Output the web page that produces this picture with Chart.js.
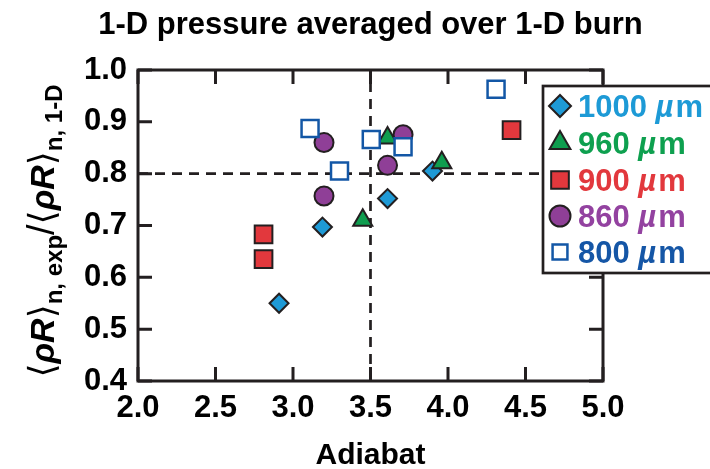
<!DOCTYPE html>
<html>
<head>
<meta charset="utf-8">
<script src="https://cdn.jsdelivr.net/npm/chart.js@4/dist/chart.umd.min.js"></script>
<style>
  html, body { margin: 0; padding: 0; background: #fff; }
  #wrap { width: 710px; height: 469px; position: relative; }
</style>
</head>
<body>
<div id="wrap"><canvas id="c"></canvas></div>
<script>
// Shell thickness series (µm) and measured areal-density ratio vs adiabat
const seriesNames = ['1000', '960', '900', '860', '800'];

const adiabat1000 = [2.91, 3.19, 3.61, 3.90];
const ratio1000   = [0.550, 0.697, 0.752, 0.805];

const adiabat960 = [3.45, 3.61, 3.96];
const ratio960   = [0.710, 0.869, 0.821];

const adiabat900 = [2.81, 2.81, 4.41];
const ratio900   = [0.683, 0.635, 0.884];

const adiabat860 = [3.20, 3.20, 3.61, 3.71];
const ratio860   = [0.860, 0.757, 0.816, 0.875];

const adiabat800 = [3.11, 3.30, 3.505, 3.71, 4.31];
const ratio800   = [0.887, 0.805, 0.866, 0.852, 0.963];

// Axis ticks and reference lines
const xTicks = [2.0, 2.5, 3.0, 3.5, 4.0, 4.5, 5.0];
const yTicks = [0.4, 0.5, 0.6, 0.7, 0.8, 0.9, 1.0];
const adiabatRef = 3.5;
const ratioRef = 0.8;

const FONT = '"Liberation Sans", Arial, Helvetica, sans-serif';
const INK = '#231f20';

function pts(xs, ys) { return xs.map((x, i) => ({ x: x, y: ys[i] })); }

const seriesStyle = [
  { shape: 'rectRot',  r: 9.5,  fill: '#1e9ad6', edge: INK,       bw: 2,   text: '#1d9ad6', lr: 11,   order: 5 },
  { shape: 'triangle', r: 11,   fill: '#0f9d4f', edge: INK,       bw: 2,   text: '#0ea04f', lr: 12,   order: 2 },
  { shape: 'rect',     r: 12.5, fill: '#e2383d', edge: INK,       bw: 2,   text: '#e2383d', lr: 12.5, order: 4 },
  { shape: 'circle',   r: 9.5,  fill: '#8f3f97', edge: INK,       bw: 2,   text: '#9342a0', lr: 10.5, order: 3 },
  { shape: 'rect',     r: 12,   fill: '#ffffff', edge: '#1357a6', bw: 2.5, text: '#1556a6', lr: 10.5, order: 1 }
];
const seriesData = [
  pts(adiabat1000, ratio1000),
  pts(adiabat960, ratio960),
  pts(adiabat900, ratio900),
  pts(adiabat860, ratio860),
  pts(adiabat800, ratio800)
];

const markerSets = seriesNames.map((name, i) => {
  const s = seriesStyle[i];
  return {
    label: name + ' µm',
    data: seriesData[i],
    pointStyle: s.shape,
    pointRadius: s.r,
    pointHoverRadius: s.r,
    pointBackgroundColor: s.fill,
    pointBorderColor: s.edge,
    pointBorderWidth: s.bw,
    backgroundColor: s.fill,
    borderColor: s.edge,
    showLine: false,
    order: s.order
  };
});

const xMin = xTicks[0], xMax = xTicks[xTicks.length - 1];
const yMin = yTicks[0], yMax = yTicks[yTicks.length - 1];

const refLines = [
  { label: 'adiabat ref', data: [{ x: adiabatRef, y: yMin }, { x: adiabatRef, y: yMax }] },
  { label: 'ratio ref',   data: [{ x: xMin, y: ratioRef }, { x: xMax, y: ratioRef }] }
].map(d => Object.assign(d, {
  showLine: true,
  borderColor: INK,
  borderWidth: 2.7,
  borderDash: [10, 7],
  pointRadius: 0,
  fill: false,
  order: 10,
  isRef: true
}));

// Box frame with inward tick marks on all four sides
const framePlugin = {
  id: 'frame',
  beforeDatasetsDraw(chart) {
    const { ctx, chartArea: a, scales: { x, y } } = chart;
    const len = 14;
    ctx.save();
    ctx.strokeStyle = INK;
    ctx.lineWidth = 3;
    ctx.setLineDash([]);
    ctx.beginPath();
    xTicks.forEach(v => {
      const px = x.getPixelForValue(v);
      ctx.moveTo(px, a.bottom); ctx.lineTo(px, a.bottom - len);
      ctx.moveTo(px, a.top); ctx.lineTo(px, a.top + len);
    });
    yTicks.forEach(v => {
      const py = y.getPixelForValue(v);
      ctx.moveTo(a.left, py); ctx.lineTo(a.left + len, py);
      ctx.moveTo(a.right, py); ctx.lineTo(a.right - len, py);
    });
    ctx.stroke();
    ctx.strokeRect(a.left, a.top, a.right - a.left, a.bottom - a.top);
    ctx.restore();
  }
};

// Title, rotated y-axis title with subscripts, and the boxed legend
const textPlugin = {
  id: 'texts',
  afterDraw(chart) {
    const { ctx, chartArea: a } = chart;
    ctx.save();

    // main title
    ctx.fillStyle = '#000';
    ctx.font = 'bold 31px ' + FONT;
    ctx.textAlign = 'center';
    ctx.textBaseline = 'alphabetic';
    ctx.fillText('1-D pressure averaged over 1-D burn', (a.left + a.right) / 2, 34);

    // y-axis title
    const parts = [
      { t: '\u27E8', f: '36px "DejaVu Sans"', dy: 0 },
      { t: 'ρR', f: 'italic bold 34px ' + FONT, dy: 0 },
      { t: '\u27E9', f: '36px "DejaVu Sans"', dy: 0 },
      { t: 'n, exp', f: 'bold 24px ' + FONT, dy: 8 },
      { t: '/', f: '38px ' + FONT, dy: 0 },
      { t: '\u27E8', f: '36px "DejaVu Sans"', dy: 0 },
      { t: 'ρR', f: 'italic bold 34px ' + FONT, dy: 0 },
      { t: '\u27E9', f: '36px "DejaVu Sans"', dy: 0 },
      { t: 'n, 1-D', f: 'bold 24px ' + FONT, dy: 8 }
    ];
    let total = 0;
    parts.forEach(p => { ctx.font = p.f; p.w = ctx.measureText(p.t).width; total += p.w; });
    ctx.translate(54, 231);
    ctx.rotate(-Math.PI / 2);
    ctx.textAlign = 'left';
    let cx = -total / 2;
    parts.forEach(p => {
      ctx.font = p.f;
      ctx.fillText(p.t, cx, p.dy);
      cx += p.w;
    });
    ctx.setTransform(1, 0, 0, 1, 0, 0);

    // legend box
    const bx = 543, by = 86, bh = 187;
    ctx.fillStyle = '#fff';
    ctx.fillRect(bx, by, 200, bh);
    ctx.strokeStyle = INK;
    ctx.lineWidth = 2.7;
    ctx.strokeRect(bx, by, 200, bh);

    const rowY = [106, 143, 180, 216, 252];
    const helpers = Chart.helpers;
    chart.data.datasets.forEach((ds, i) => {
      if (ds.isRef) return;
      const s = seriesStyle[i];
      const yy = rowY[i];
      ctx.fillStyle = s.fill;
      ctx.strokeStyle = s.edge;
      ctx.lineWidth = s.bw;
      helpers.drawPoint(ctx, { pointStyle: s.shape, radius: s.lr, rotation: 0, borderWidth: s.bw }, 560, yy);

      let tx = 578;
      const base = yy + 11;
      ctx.fillStyle = s.text;
      ctx.textAlign = 'left';
      ctx.font = 'bold 31px ' + FONT;
      const num = seriesNames[i] + ' ';
      ctx.fillText(num, tx, base);
      tx += ctx.measureText(num).width;
      ctx.font = 'italic bold 31px ' + FONT;
      ctx.fillText('µ', tx, base);
      tx += ctx.measureText('µ').width + 2;
      ctx.font = 'bold 31px ' + FONT;
      ctx.fillText('m', tx, base);
    });
    ctx.restore();
  }
};

new Chart(document.getElementById('c'), {
  type: 'scatter',
  data: { datasets: markerSets.concat(refLines) },
  options: {
    responsive: true,
    maintainAspectRatio: false,
    animation: false,
    events: [],
    layout: { padding: { top: 70, right: 107, left: 0, bottom: 0 } },
    plugins: {
      legend: { display: false },
      tooltip: { enabled: false },
      title: { display: false }
    },
    scales: {
      x: {
        type: 'linear',
        min: xMin,
        max: xMax,
        afterBuildTicks: s => { s.ticks = xTicks.map(v => ({ value: v })); },
        afterFit: s => { s.height = 88; },
        grid: { display: false, drawTicks: false },
        border: { display: false },
        ticks: {
          padding: 9,
          color: '#000',
          font: { family: FONT, size: 31, weight: 'bold' },
          callback: v => Number(v).toFixed(1),
          maxRotation: 0
        },
        title: {
          display: true,
          text: 'Adiabat',
          color: '#000',
          font: { family: FONT, size: 30, weight: 'bold' },
          padding: { top: 0, bottom: -5 }
        }
      },
      y: {
        type: 'linear',
        min: yMin,
        max: yMax,
        afterBuildTicks: s => { s.ticks = yTicks.map(v => ({ value: v })); },
        afterFit: s => { s.width = 138; },
        grid: { display: false, drawTicks: false },
        border: { display: false },
        ticks: {
          padding: 11,
          color: '#000',
          font: { family: FONT, size: 31, weight: 'bold' },
          callback: v => Number(v).toFixed(1)
        }
      }
    }
  },
  plugins: [framePlugin, textPlugin]
});
</script>
</body>
</html>
